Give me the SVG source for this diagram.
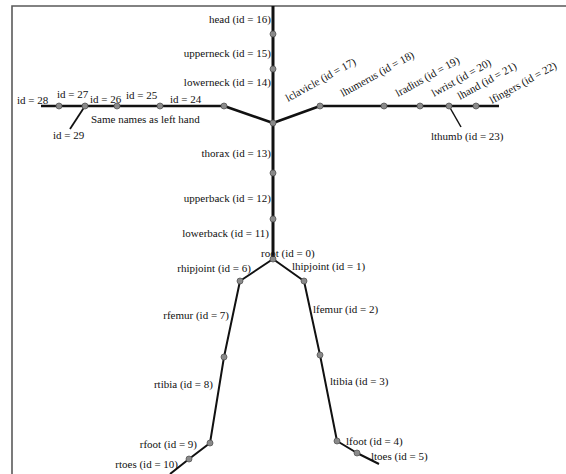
<svg xmlns="http://www.w3.org/2000/svg" width="566" height="474" viewBox="0 0 566 474">
<style>
.t{font-family:"Liberation Serif","Times New Roman",serif;font-size:11px;fill:#111}
.e{text-anchor:end}
.b{stroke:#111;fill:none;stroke-linecap:butt;stroke-linejoin:round}
.n{fill:#8a8a8a;stroke:#555;stroke-width:0.8}
</style>
<rect width="566" height="474" fill="#fff"/>
<path d="M12,474 V6 H566" fill="none" stroke="#5a5a5a" stroke-width="1.6"/>
<g id="connectors">
<path class="b" stroke-width="3" d="M273,6 V259"/>
<path class="b" stroke-width="2.6" d="M273,123 L224,106 H41"/>
<path class="b" stroke-width="1.8" d="M85,106 L70,129"/>
<path class="b" stroke-width="2.6" d="M273,123 L320,106 H499"/>
<path class="b" stroke-width="1.5" d="M449,106 L461,127"/>
<path class="b" stroke-width="2" d="M273,259 L240,281 L224,357 L210,443 L189,459 L170,474"/>
<path class="b" stroke-width="2" d="M273,259 L304,281 L320,355 L337,441 L357,453 L379,464"/>
</g>
<g id="head"><circle class="n" cx="273" cy="34" r="3"/><text class="t e" x="271" y="23">head (id = 16)</text></g>
<g id="upperneck"><circle class="n" cx="273" cy="69" r="3"/><text class="t e" x="271" y="57">upperneck (id = 15)</text></g>
<g id="lowerneck"><circle class="n" cx="273" cy="123" r="3"/><text class="t e" x="271" y="86">lowerneck (id = 14)</text></g>
<g id="thorax"><circle class="n" cx="273" cy="173" r="3"/><text class="t e" x="271" y="157">thorax (id = 13)</text></g>
<g id="upperback"><circle class="n" cx="273" cy="219" r="3"/><text class="t e" x="271" y="202">upperback (id = 12)</text></g>
<g id="lowerback"><text class="t e" x="269" y="237">lowerback (id = 11)</text></g>
<g id="root"><circle class="n" cx="273" cy="259" r="3"/><text class="t" x="261" y="257">root (id = 0)</text></g>
<g id="rhipjoint"><circle class="n" cx="240" cy="281" r="3"/><text class="t e" x="251" y="272">rhipjoint (id = 6)</text></g>
<g id="rfemur"><circle class="n" cx="224" cy="357" r="3"/><text class="t e" x="229" y="319">rfemur (id = 7)</text></g>
<g id="rtibia"><text class="t e" x="213" y="388">rtibia (id = 8)</text></g>
<g id="rfoot"><circle class="n" cx="210" cy="443" r="3"/><text class="t e" x="197" y="448">rfoot (id = 9)</text></g>
<g id="rtoes"><circle class="n" cx="189" cy="459" r="3"/><text class="t e" x="178" y="468">rtoes (id = 10)</text></g>
<g id="lhipjoint"><circle class="n" cx="304" cy="281" r="3"/><text class="t" x="292" y="270">lhipjoint (id = 1)</text></g>
<g id="lfemur"><circle class="n" cx="320" cy="355" r="3"/><text class="t" x="313" y="313">lfemur (id = 2)</text></g>
<g id="ltibia"><text class="t" x="330" y="385">ltibia (id = 3)</text></g>
<g id="lfoot"><circle class="n" cx="337" cy="441" r="3"/><text class="t" x="346" y="445">lfoot (id = 4)</text></g>
<g id="ltoes"><circle class="n" cx="357" cy="453" r="3"/><text class="t" x="371" y="460">ltoes (id = 5)</text></g>
<g id="lclavicle"><circle class="n" cx="320" cy="106" r="3"/><text class="t" transform="translate(288,102) rotate(-29)">lclavicle (id = 17)</text></g>
<g id="lhumerus"><circle class="n" cx="384" cy="106" r="3"/><text class="t" transform="translate(343,97) rotate(-29)">lhumerus (id = 18)</text></g>
<g id="lradius"><circle class="n" cx="420" cy="106" r="3"/><text class="t" transform="translate(398,97) rotate(-29)">lradius (id = 19)</text></g>
<g id="lwrist"><circle class="n" cx="449" cy="106" r="3"/><text class="t" transform="translate(434,97) rotate(-29)">lwrist (id = 20)</text></g>
<g id="lhand"><circle class="n" cx="476" cy="106" r="3"/><text class="t" transform="translate(460,100) rotate(-29)">lhand (id = 21)</text></g>
<g id="lfingers"><text class="t" transform="translate(492,104) rotate(-29)">lfingers (id = 22)</text></g>
<g id="lthumb"><text class="t" x="431" y="140">lthumb (id = 23)</text></g>
<g id="rclavicle"><circle class="n" cx="224" cy="106" r="3"/><text class="t" x="170" y="103">id = 24</text></g>
<g id="rhumerus"><circle class="n" cx="160" cy="106" r="3"/><text class="t" x="126" y="99">id = 25</text></g>
<g id="rradius"><circle class="n" cx="117" cy="106" r="3"/><text class="t" x="90" y="103">id = 26</text></g>
<g id="rwrist"><circle class="n" cx="85" cy="106" r="3"/><text class="t" x="57" y="98">id = 27</text></g>
<g id="rhand"><circle class="n" cx="59" cy="106" r="3"/><text class="t" x="17" y="104">id = 28</text></g>
<g id="rfingers"></g>
<g id="rthumb"><text class="t" x="53" y="139">id = 29</text></g>
<g id="note"><text class="t" x="91" y="123">Same names as left hand</text></g>
</svg>
